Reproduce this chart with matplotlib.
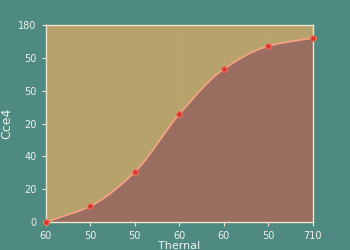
import numpy as np
import matplotlib
matplotlib.use("Agg")
import matplotlib.pyplot as plt

# values
x_pos = [0, 1, 2, 3, 4, 5, 6]
y_vals = [0, 9.7, 30.5, 65.8, 93.2, 107.2, 112.1]
x_labels = ["60", "50", "50", "60", "60", "50", "710"]
y_ticks = [0, 20, 40, 60, 80, 100, 120]
y_labels = ["0", "20", "40", "20", "50", "50", "180"]


def smooth(xs, ys, n=300):
    # monotone cubic (pchip-like) curve through the points, for drawing only
    xs = np.asarray(xs, float)
    ys = np.asarray(ys, float)
    h = np.diff(xs)
    d = np.diff(ys) / h
    m = np.zeros_like(ys)
    m[0], m[-1] = d[0], d[-1]
    for i in range(1, len(ys) - 1):
        if d[i - 1] * d[i] > 0:
            m[i] = 2 / (1 / d[i - 1] + 1 / d[i])
    xx = np.linspace(xs[0], xs[-1], n)
    idx = np.clip(np.searchsorted(xs, xx) - 1, 0, len(xs) - 2)
    t = (xx - xs[idx]) / h[idx]
    h00 = 2 * t**3 - 3 * t**2 + 1
    h10 = t**3 - 2 * t**2 + t
    h01 = -2 * t**3 + 3 * t**2
    h11 = t**3 - t**2
    yy = (h00 * ys[idx] + h10 * h[idx] * m[idx]
          + h01 * ys[idx + 1] + h11 * h[idx] * m[idx + 1])
    return xx, yy


fig = plt.figure(figsize=(3.5, 2.5), dpi=100)
fig.patch.set_facecolor("#4f8a82")
ax = fig.add_axes([0.131, 0.112, 0.763, 0.788])
ax.set_facecolor("#b6a26a")

xx, yy = smooth(x_pos, y_vals)
ax.fill_between(xx, yy, 0, color="#9a6d61", zorder=2)
ax.plot(xx, yy, color="#f3a383", lw=1.3, zorder=3)
ax.plot(x_pos, y_vals, "o", ms=4, color="#d8362c", mec="#f07060", mew=0.8,
        zorder=4, clip_on=False)

ax.set_xlim(0, 6)
ax.set_ylim(0, 120)
ax.set_xticks(x_pos)
ax.set_xticklabels(x_labels)
ax.set_yticks(y_ticks)
ax.set_yticklabels(y_labels)
ax.grid(axis="x", color="#c2ae76", lw=0.5, alpha=0.5, zorder=1)

for s in ax.spines.values():
    s.set_color("#ece4cc")
    s.set_linewidth(1.0)
ax.tick_params(colors="#ece4cc", labelcolor="#eef0ea", labelsize=7,
               length=3, width=0.8)
ax.set_xlabel("Thernal", color="#eef0ea", fontsize=8, labelpad=0)
ax.set_ylabel("Cce4", color="#eef0ea", fontsize=9, labelpad=4)

fig.savefig("out.png", dpi=100, facecolor=fig.get_facecolor())
